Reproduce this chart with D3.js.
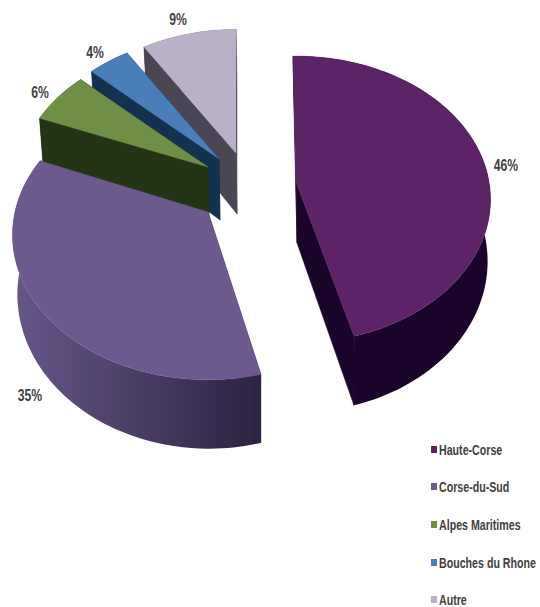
<!DOCTYPE html>
<html><head><meta charset="utf-8">
<script src="https://cdn.jsdelivr.net/npm/d3@7/dist/d3.min.js"></script>
<style>html,body{margin:0;padding:0;background:#fff}svg{display:block}
text{font-family:"Liberation Sans",sans-serif;font-weight:700;fill:#404040}</style>
</head><body><svg id="c" width="540" height="607"></svg>
<script>
const categories=["Haute-Corse","Corse-du-Sud","Alpes Maritimes","Bouches du Rhone","Autre"];
const shares=[46,35,6,4,9];
const percentLabels=["46%","35%","6%","4%","9%"];
const topColors=["#5c2466","#6c5a8e","#6f8f46","#4a7eb9","#b8b1c8"];
const sideColors=["#1a0429","#2e2340","#243516","#12324f","#4a4654"];
// layout: exploded apex of each slice, radius factor, perspective, rotation nudge, depth, label anchor
const apex=[[296,182],[208,212],[208,167],[219,159],[236,153]];
const radiusFactor=[.99,.99,.97,.97,.97];
const perspective=[.123,.16,.123,.123,.123];
const nudgeDeg=[-1,1,0,0,0];
const depths=[61,58,61,61,61];
const labelPos=[[506,171],[30,401],[40,98],[95,58],[178,25]];
const legendY=[450,487,525,563,600];
const A=195,B=142.6,CONV=.98,SQUEEZE_LABEL=.76,SQUEEZE_LEGEND=.71;
const svg=d3.select("#c");
const defs=svg.append("defs");
const grad=defs.append("linearGradient").attr("id","wall1").attr("gradientUnits","userSpaceOnUse")
 .attr("x1",15).attr("x2",262).attr("y1",0).attr("y2",0);
grad.append("stop").attr("offset",0).attr("stop-color","#67568a");
grad.append("stop").attr("offset",.45).attr("stop-color","#4d4069");
grad.append("stop").attr("offset",1).attr("stop-color","#2c2240");
const px=d3.scaleLinear().domain([-1,1]).range([-A,A]);
const py=d3.scaleLinear().domain([-1,1]).range([-B,B]);
function proj(i,t0,r,low){
 const t=t0+nudgeDeg[i]*Math.PI/180;
 const X=Math.sin(t)*r*radiusFactor[i],Y=-Math.cos(t)*r*radiusFactor[i],w=1-perspective[i]*Y;
 const x=px(X)/w,y=py(Y)/w;
 return low?[apex[i][0]+1+x*CONV,apex[i][1]+y+depths[i]/w]:[apex[i][0]+x,apex[i][1]+y];
}
const line=d3.line();
const arcs=d3.pie().sort(null).startAngle(0).endAngle(2*Math.PI)(shares);
function arcT(a){const n=Math.max(6,Math.round((a.endAngle-a.startAngle)*40));
 return d3.range(n+1).map(k=>a.startAngle+(a.endAngle-a.startAngle)*k/n);}
const order=[4,3,2,1,0];
const g=svg.append("g");
order.forEach(i=>{
 const a=arcs[i],ts=arcT(a),sg=g.append("g");
 const side=sideColors[i],wallFill=i===1?"url(#wall1)":side;
 [a.startAngle,a.endAngle].forEach(t=>{
  sg.append("path").attr("fill",side).attr("stroke",side).attr("stroke-width",.5)
   .attr("d",line([proj(i,t,0,false),proj(i,t,1,false),proj(i,t,1,true),proj(i,t,0,true)])+"Z");
 });
 const tops=ts.map(t=>proj(i,t,1,false));
 const lows=ts.map(t=>proj(i,t,1,true)).reverse();
 sg.append("path").attr("fill",wallFill).attr("d",line(tops.concat(lows))+"Z");
 sg.append("path").attr("fill",topColors[i]).attr("stroke",topColors[i]).attr("stroke-width",.4)
   .attr("d",line([proj(i,0,0,false)].concat(tops))+"Z");
});
svg.append("g").selectAll("text").data(percentLabels).join("text")
 .attr("transform",(d,i)=>`translate(${labelPos[i][0]},${labelPos[i][1]}) scale(${SQUEEZE_LABEL},1)`)
 .attr("text-anchor","middle").attr("font-size",16).text(d=>d);
const leg=svg.append("g").selectAll("g").data(categories).join("g");
leg.append("rect").attr("x",431).attr("y",(d,i)=>legendY[i]-4).attr("width",6).attr("height",7)
 .attr("fill",(d,i)=>topColors[i]);
leg.append("text")
 .attr("transform",(d,i)=>`translate(439,${legendY[i]+5}) scale(${SQUEEZE_LEGEND},1)`)
 .attr("font-size",15).text(d=>d);
</script></body></html>
